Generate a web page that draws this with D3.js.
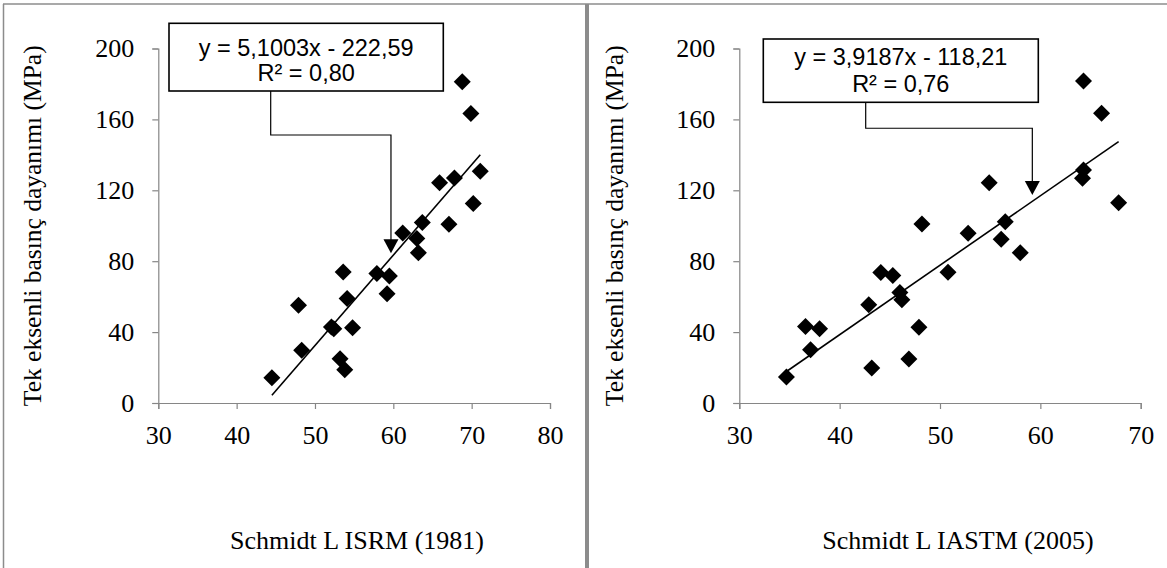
<!DOCTYPE html>
<html>
<head>
<meta charset="utf-8">
<script src="https://cdn.jsdelivr.net/npm/d3@7"></script>
<style>
  html, body { margin: 0; padding: 0; background: #fff; }
  svg { display: block; }
</style>
</head>
<body>
<svg id="chart" width="1167" height="568"></svg>
<script>
// Schmidt L rebound (ISRM 1981) vs uniaxial compressive strength
const isrmX = [68.8, 69.9, 71.1, 65.9, 67.8, 70.2, 67.1, 63.7, 61.2, 63.0, 63.2, 57.9,
               59.5, 59.2, 53.6, 54.1, 47.9, 52.1, 52.4, 54.8, 48.3, 53.2, 53.8, 44.5];
const isrmY = [181.2, 163.3, 130.8, 124.2, 127.0, 112.5, 100.8, 101.8, 95.9, 92.8, 84.7, 73.0,
               71.7, 61.7, 73.9, 58.9, 55.1, 42.9, 41.9, 42.5, 29.7, 25.0, 18.8, 14.3];

// Schmidt L rebound (IASTM 2005) vs uniaxial compressive strength
const iastmX = [64.3, 66.1, 64.3, 64.2, 67.8, 54.9, 48.2, 56.5, 56.1, 58.0, 52.8, 50.8,
                44.1, 45.3, 46.0, 46.2, 42.9, 47.9, 36.6, 38.0, 37.1, 46.9, 43.2, 34.7];
const iastmY = [181.6, 163.4, 131.4, 126.8, 113.0, 124.3, 101.0, 102.3, 92.4, 84.8, 95.8, 73.8,
                73.6, 71.9, 62.3, 58.2, 55.4, 42.8, 43.2, 41.9, 30.0, 24.8, 19.7, 14.6];

// Linear trend lines (slope, intercept) and their labels
const isrmFit = [5.1003, -222.59];
const iastmFit = [3.9187, -118.21];
const isrmLabel = ["y = 5,1003x - 222,59", "R² = 0,80"];
const iastmLabel = ["y = 3,9187x - 118,21", "R² = 0,76"];

// Axis ticks
const isrmXTicks = [30, 40, 50, 60, 70, 80];
const iastmXTicks = [30, 40, 50, 60, 70];
const yTicks = [0, 40, 80, 120, 160, 200];

const yTitle = "Tek eksenli basınç dayanımı (MPa)";
const isrmTitle = "Schmidt L ISRM (1981)";
const iastmTitle = "Schmidt L IASTM (2005)";

const svg = d3.select("#chart");
const AXIS = "#868686";
const FRAME = "#8c8c8c";
const SERIF = "'Liberation Serif', 'Times New Roman', serif";
const SANS = "'Liberation Sans', Arial, sans-serif";

// outer frame and panel divider
svg.append("line").attr("x1", 3).attr("x2", 1167).attr("y1", 4).attr("y2", 4)
  .attr("stroke", FRAME).attr("stroke-width", 1.5);
svg.append("line").attr("x1", 3.5).attr("x2", 3.5).attr("y1", 4).attr("y2", 568)
  .attr("stroke", FRAME).attr("stroke-width", 1.5);
svg.append("rect").attr("x", 585).attr("y", 4).attr("width", 4).attr("height", 564)
  .attr("fill", FRAME);

function panel(opt) {
  const x = d3.scaleLinear().domain(opt.xDomain).range([opt.left, opt.right]);
  const y = d3.scaleLinear().domain([0, 200]).range([403, 48.5]);
  const g = svg.append("g");

  // axes
  const xAxis = d3.axisBottom(x).tickValues(opt.xTicks).tickSize(6).tickPadding(17);
  const yAxis = d3.axisLeft(y).tickValues(yTicks).tickSize(6).tickPadding(opt.yPad);
  const gx = g.append("g").attr("transform", `translate(0,${y(0)})`).call(xAxis);
  const gy = g.append("g").attr("transform", `translate(${x(opt.xDomain[0])},0)`).call(yAxis);
  [gx, gy].forEach(a => {
    a.select(".domain").attr("stroke", AXIS).attr("stroke-width", 1.2);
    a.selectAll(".tick line").attr("stroke", AXIS).attr("stroke-width", 1.2);
    a.selectAll(".tick text").attr("fill", "#000")
      .style("font-family", SERIF).style("font-size", "26px");
  });
  gx.selectAll(".tick text").attr("dy", "0.71em");

  // trend line over the data range
  const xs = d3.extent(opt.xs);
  const f = v => opt.fit[0] * v + opt.fit[1];
  g.append("line")
    .attr("x1", x(xs[0])).attr("y1", y(f(xs[0])))
    .attr("x2", x(xs[1])).attr("y2", y(f(xs[1])))
    .attr("stroke", "#000").attr("stroke-width", 1.6);

  // diamond markers
  const h = 8.5;
  g.append("g").selectAll("path").data(opt.xs.map((v, i) => [v, opt.ys[i]]))
    .join("path")
    .attr("transform", d => `translate(${x(d[0])},${y(d[1])})`)
    .attr("d", `M0,${-h}L${h},0L0,${h}L${-h},0Z`)
    .attr("fill", "#000");

  // equation callout with elbow connector and arrow
  const b = opt.box;
  const tipX = x(opt.tip[0]), tipY = y(opt.tip[1]);
  const elbowY = y(opt.elbow);
  g.append("path")
    .attr("d", `M${b.anchor},${b.y1}V${elbowY}H${tipX}V${tipY - 13}`)
    .attr("fill", "none").attr("stroke", "#000").attr("stroke-width", 1.2);
  g.append("path")
    .attr("d", `M${tipX - 7.5},${tipY - 14}L${tipX + 7.5},${tipY - 14}L${tipX},${tipY}Z`)
    .attr("fill", "#000");
  g.append("rect").attr("x", b.x0).attr("y", b.y0)
    .attr("width", b.x1 - b.x0).attr("height", b.y1 - b.y0)
    .attr("fill", "#fff").attr("stroke", "#000").attr("stroke-width", 1.6);
  const cx = (b.x0 + b.x1) / 2;
  opt.label.forEach((t, i) => {
    g.append("text").attr("x", cx).attr("y", b.y0 + b.lines[i])
      .attr("text-anchor", "middle").attr("dominant-baseline", "middle")
      .style("font-family", SANS).style("font-size", "23.5px").text(t);
  });

  // axis titles
  g.append("text")
    .attr("transform", `translate(${opt.yTitleX},${(y(0) + y(200)) / 2}) rotate(-90)`)
    .attr("text-anchor", "middle").attr("dominant-baseline", "middle")
    .style("font-family", SERIF).style("font-size", "25.5px").text(yTitle);
  g.append("text").attr("x", opt.xTitleX).attr("y", 543)
    .attr("text-anchor", "middle").attr("dominant-baseline", "middle")
    .style("font-family", SERIF).style("font-size", "26px").text(opt.xTitle);
}

panel({
  xDomain: [30, 80], left: 158.3, right: 550, xTicks: isrmXTicks, yPad: 18,
  xs: isrmX, ys: isrmY, fit: isrmFit, label: isrmLabel,
  box: { x0: 169, x1: 443.3, y0: 23.3, y1: 91, anchor: 270.7, lines: [26, 51] },
  tip: [59.7, 84.5], elbow: 151.2,
  yTitleX: 35, xTitleX: 357, xTitle: isrmTitle
});

panel({
  xDomain: [30, 70], left: 739.3, right: 1140.7, xTicks: iastmXTicks, yPad: 18,
  xs: iastmX, ys: iastmY, fit: iastmFit, label: iastmLabel,
  box: { x0: 763.3, x1: 1038.3, y0: 39, y1: 102.3, anchor: 865.7, lines: [20, 47] },
  tip: [59.2, 117.3], elbow: 155,
  yTitleX: 617, xTitleX: 958, xTitle: iastmTitle
});
</script>
</body>
</html>
